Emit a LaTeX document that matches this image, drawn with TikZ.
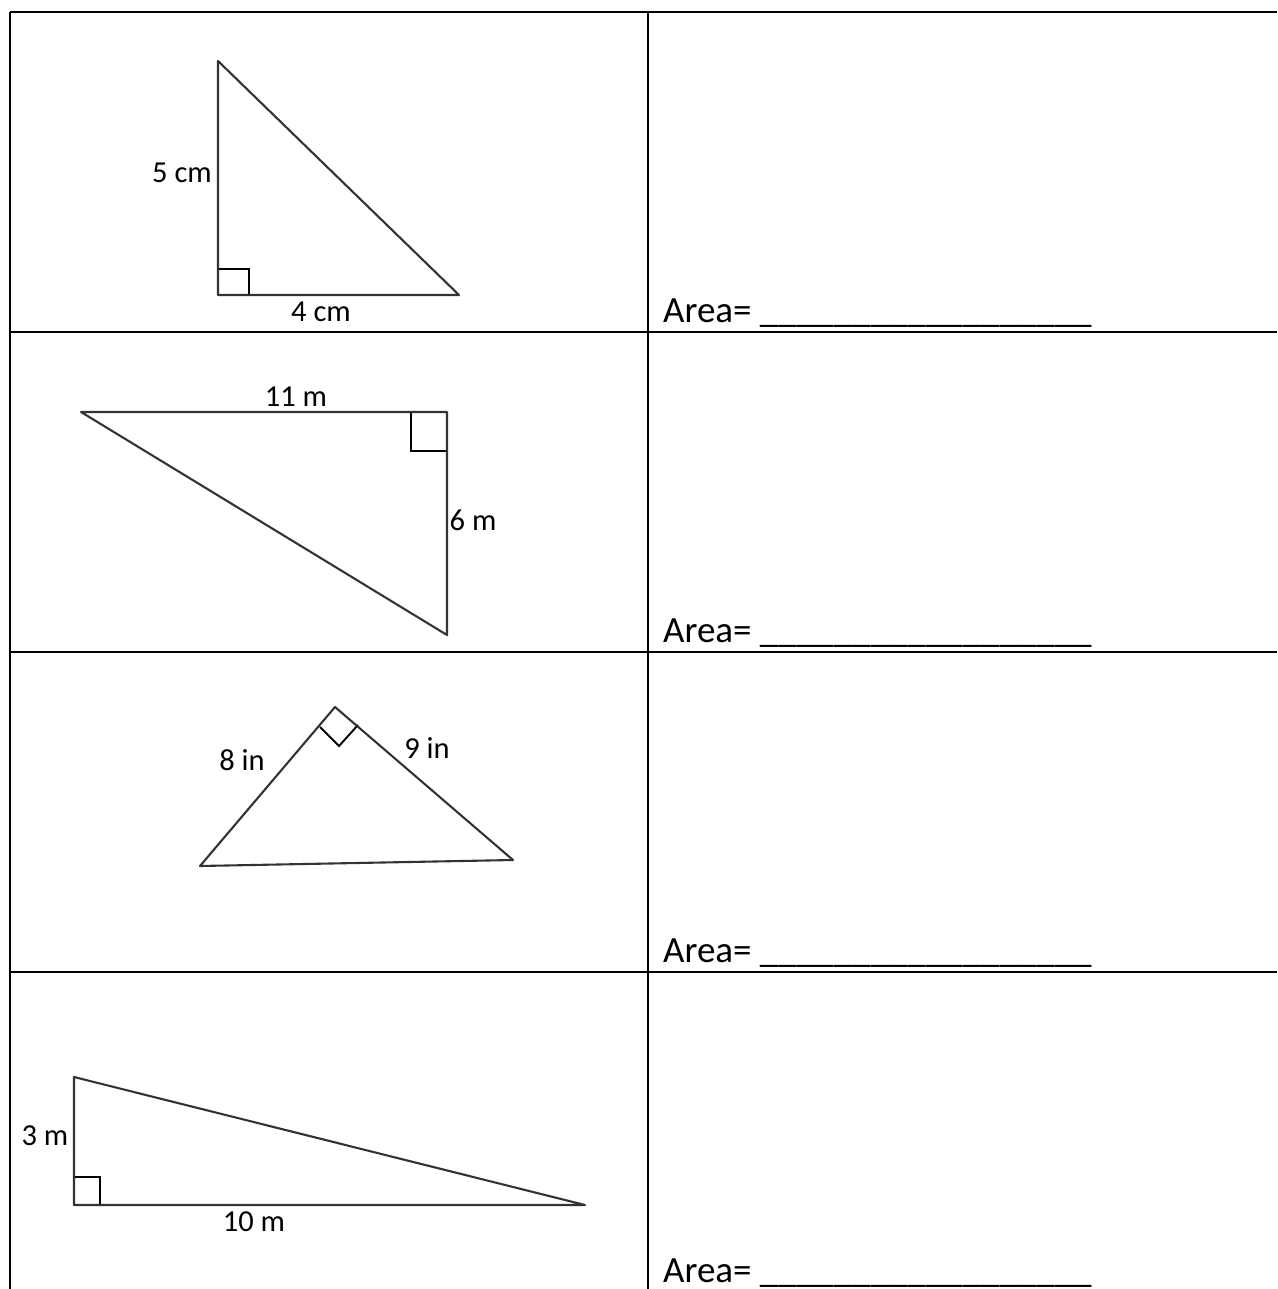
\documentclass[tikz,border=0pt]{standalone}
\usepackage{fontspec}
\setmainfont{Carlito}
\begin{document}
\begin{tikzpicture}[x=1pt,y=-1pt,
  grid/.style={line width=2.7pt,black},
  tri/.style={line width=2.1pt,black!80,line join=round,line cap=round},
  rbox/.style={line width=1.9pt,black},
  lbl/.style={inner sep=0pt,font=\fontsize{30.5}{36}\selectfont,text=black},
  area/.style={inner sep=0pt,anchor=base west,font=\fontsize{37}{44}\selectfont}]
\useasboundingbox (0,0) rectangle (1277,1289);
% table
\coordinate (tl) at (10,12);
\coordinate (tr) at (1277,12);
\coordinate (bl) at (10,1289);
\coordinate (mt) at (648,12);
\coordinate (mb) at (648,1289);
\coordinate (r1l) at (10,332); \coordinate (r1r) at (1277,332);
\coordinate (r2l) at (10,652); \coordinate (r2r) at (1277,652);
\coordinate (r3l) at (10,972); \coordinate (r3r) at (1277,972);
\draw[grid] (tl) -- (tr);
\draw[grid] (tl) -- (bl);
\draw[grid] (mt) -- (mb);
\draw[grid] (r1l) -- (r1r);
\draw[grid] (r2l) -- (r2r);
\draw[grid] (r3l) -- (r3r);
% triangle 1
\coordinate (a1) at (218,61);
\coordinate (b1) at (218,295);
\coordinate (c1) at (459,295);
\draw[rbox] (218,269) -- (249,269) -- (249,295);
\draw[tri] (a1) -- (b1) -- (c1) -- cycle;
\node[lbl] (l5cm) at (182,173) {5 cm};
\node[lbl] (l4cm) at (321,312) {4 cm};
% triangle 2
\coordinate (a2) at (81,412);
\coordinate (b2) at (447,412);
\coordinate (c2) at (447,635);
\draw[rbox] (447,451) -- (411,451) -- (411,412);
\draw[tri] (a2) -- (b2) -- (c2) -- cycle;
\node[lbl] (l11m) at (296,397) {11 m};
\node[lbl] (l6m) at (473,520) {6 m};
% triangle 3
\coordinate (a3) at (335,707);
\coordinate (b3) at (200,866);
\coordinate (c3) at (513,860);
\draw[rbox] (320,727) -- (339,746) -- (358,725);
\draw[tri] (a3) -- (b3) -- (c3) -- cycle;
\node[lbl] (l8in) at (242,760) {8 in};
\node[lbl] (l9in) at (427,748) {9 in};
% triangle 4
\coordinate (a4) at (74,1077);
\coordinate (b4) at (74,1205);
\coordinate (c4) at (585,1205);
\draw[rbox] (74,1177) -- (100,1177) -- (100,1205);
\draw[tri] (a4) -- (b4) -- (c4) -- cycle;
\node[lbl] (l3m) at (45,1136) {3 m};
\node[lbl] (l10m) at (254,1222) {10 m};
% area lines
\node[area] (ar1) at (663,322) {Area= \_\_\_\_\_\_\_\_\_\_\_\_\_\_\_\_\_\_};
\node[area] (ar2) at (663,642) {Area= \_\_\_\_\_\_\_\_\_\_\_\_\_\_\_\_\_\_};
\node[area] (ar3) at (663,962) {Area= \_\_\_\_\_\_\_\_\_\_\_\_\_\_\_\_\_\_};
\node[area] (ar4) at (663,1282) {Area= \_\_\_\_\_\_\_\_\_\_\_\_\_\_\_\_\_\_};
\end{tikzpicture}
\end{document}
